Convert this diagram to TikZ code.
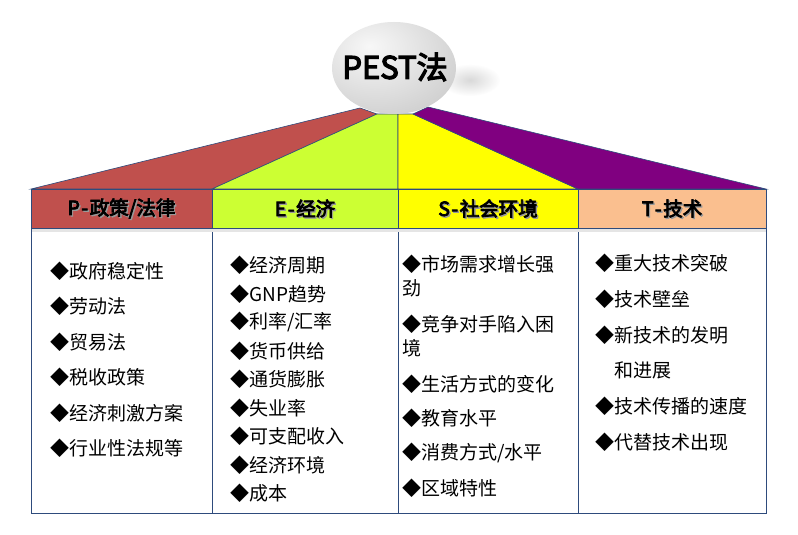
\documentclass[tikz,border=0pt]{standalone}
\usepackage{fontspec}
\setmainfont{Liberation Serif}
\newfontfamily\cjk{Noto Sans CJK SC}
\newfontfamily\cjkb[FakeBold=4]{Noto Sans CJK SC}
\usetikzlibrary{fadings}
\definecolor{pRed}{HTML}{C0504D}
\definecolor{eGreen}{HTML}{CCFF33}
\definecolor{sYellow}{HTML}{FFFF00}
\definecolor{tPeach}{HTML}{FABF8F}
\definecolor{tPurple}{HTML}{800080}
\definecolor{edgeblue}{HTML}{2E4B7C}
\tikzfading[name=blobfade, inner color=transparent!0, outer color=transparent!100]
\pgfdeclareradialshading{pestsphere}{\pgfpoint{-10bp}{12bp}}{%
  color(0bp)=(gray!6); color(12bp)=(gray!16); color(30bp)=(gray!32);
  color(48bp)=(gray!48); color(60bp)=(gray!58); color(100bp)=(gray!58)}
\newcommand{\hy}{\hspace{1.5pt}-\hspace{1.5pt}}
\tikzset{
  wedge/.style={draw=edgeblue, line width=0.6pt},
  hdrcell/.style={draw=edgeblue, line width=0.6pt, minimum height=39pt, inner sep=0pt},
  bodycell/.style={draw=edgeblue, line width=0.8pt, fill=white, minimum height=285pt, inner sep=0pt},
  hdrtext/.style={font=\cjkb\fontsize{19.5}{22}\selectfont, text=black, inner sep=0pt},
  hdrshadow/.style={font=\cjkb\fontsize{19.5}{22}\selectfont, text=black!40, inner sep=0pt},
  item/.style={font=\cjk\fontsize{19}{22}\selectfont, anchor=west, inner sep=0pt, text=black},
}
\begin{document}
\begin{tikzpicture}[x=1pt,y=-1pt]
\useasboundingbox (0,0) rectangle (798,535);
\fill[white] (0,0) rectangle (798,535);
% wedges
\filldraw[wedge, fill=pRed] (31,189) -- (360,108) -- (377,114) -- (212,189) -- cycle;
\filldraw[wedge, fill=eGreen] (212,189) -- (377,114) -- (398,114) -- (398,189) -- cycle;
\filldraw[wedge, fill=sYellow] (398,114) -- (413,114) -- (578,189) -- (398,189) -- cycle;
\filldraw[wedge, fill=tPurple] (413,114) -- (428,107) -- (766,189) -- (578,189) -- cycle;
% sphere shadow and sphere
\fill[gray!30, path fading=blobfade] (470,80) ellipse [x radius=30, y radius=16];
\shade[shading=pestsphere] (394,68) ellipse [x radius=62, y radius=46];
\node[font=\cjkb\fontsize{31}{34}\selectfont, inner sep=0pt] (title) at (395,67) {PEST法};
% header cells
\node[hdrcell, fill=pRed, minimum width=181pt] (hP) at (121.5,208.5) {};
\node[hdrcell, fill=eGreen, minimum width=186pt] (hE) at (305,208.5) {};
\node[hdrcell, fill=sYellow, minimum width=180pt] (hS) at (488,208.5) {};
\node[hdrcell, fill=tPeach, minimum width=188pt] (hT) at (672,208.5) {};
% body cells
\node[bodycell, minimum width=181pt] (cP) at (121.5,370.5) {};
\node[bodycell, minimum width=186pt] (cE) at (305,370.5) {};
\node[bodycell, minimum width=180pt] (cS) at (488,370.5) {};
\node[bodycell, minimum width=188pt] (cT) at (672,370.5) {};
\fill[black!10] (31.5,228.5) rectangle (765.5,232);
% header texts
\node[hdrshadow] (hPs) at ([shift={(1.3,1.3)}]hP.center) {P\hy 政策/法律};
\node[hdrtext] (hPt) at (hP.center) {P\hy 政策/法律};
\node[hdrshadow] (hEs) at ([shift={(1.3,1.3)}]hE.center) {E\hy 经济};
\node[hdrtext] (hEt) at (hE.center) {E\hy 经济};
\node[hdrshadow] (hSs) at ([shift={(1.3,1.3)}]hS.center) {S\hy 社会环境};
\node[hdrtext] (hSt) at (hS.center) {S\hy 社会环境};
\node[hdrshadow] (hTs) at ([shift={(1.3,1.3)}]hT.center) {T\hy 技术};
\node[hdrtext] (hTt) at (hT.center) {T\hy 技术};
% P items
\node[item] (p1) at (50,271) {◆政府稳定性};
\node[item] (p2) at (50,306) {◆劳动法};
\node[item] (p3) at (50,342) {◆贸易法};
\node[item] (p4) at (50,377) {◆税收政策};
\node[item] (p5) at (50,413) {◆经济刺激方案};
\node[item] (p6) at (50,448) {◆行业性法规等};
% E items
\node[item] (e1) at (230,265) {◆经济周期};
\node[item] (e2) at (230,294) {◆GNP趋势};
\node[item] (e3) at (230,322) {◆利率/汇率};
\node[item] (e4) at (230,351) {◆货币供给};
\node[item] (e5) at (230,379) {◆通货膨胀};
\node[item] (e6) at (230,408) {◆失业率};
\node[item] (e7) at (230,436) {◆可支配收入};
\node[item] (e8) at (230,465) {◆经济环境};
\node[item] (e9) at (230,493) {◆成本};
% S items
\node[item] (s1) at (402,264) {◆市场需求增长强};
\node[item] (s1b) at (402,288) {劲};
\node[item] (s2) at (402,324) {◆竞争对手陷入困};
\node[item] (s2b) at (402,348) {境};
\node[item] (s3) at (402,384) {◆生活方式的变化};
\node[item] (s4) at (402,418) {◆教育水平};
\node[item] (s5) at (402,453) {◆消费方式/水平};
\node[item] (s6) at (402,488) {◆区域特性};
% T items
\node[item] (t1) at (595,263) {◆重大技术突破};
\node[item] (t2) at (595,299) {◆技术壁垒};
\node[item] (t3) at (595,335) {◆新技术的发明};
\node[item] (t3b) at (614,370) {和进展};
\node[item] (t4) at (595,406) {◆技术传播的速度};
\node[item] (t5) at (595,442) {◆代替技术出现};
\end{tikzpicture}
\end{document}
